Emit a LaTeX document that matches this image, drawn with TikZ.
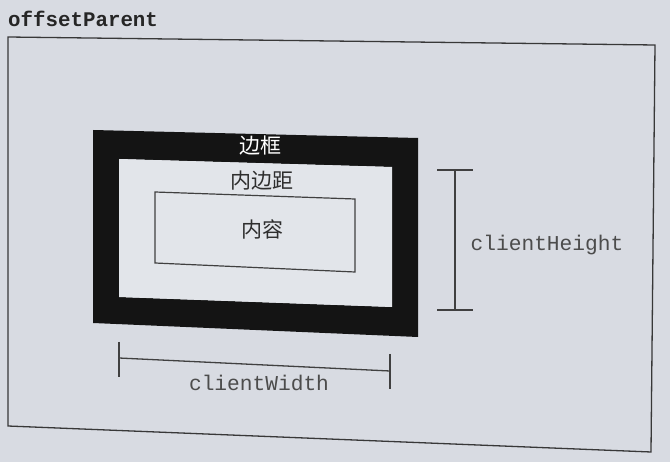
\documentclass[tikz,border=0pt]{standalone}
\usepackage{fontspec}
\setmonofont{Liberation Mono}
\newfontfamily\cjk{Noto Sans CJK SC}
\begin{document}
\begin{tikzpicture}[x=1pt,y=-1pt,
  ink/.style={draw=black!78,line width=1.3pt},
  codelabel/.style={font=\ttfamily\fontsize{21.2}{23}\selectfont,text=black!70,inner sep=0pt},
  cnlabel/.style={font=\cjk\fontsize{21}{23}\selectfont,inner sep=0pt},
  tick/.style={draw=black!75,line width=1.3pt}]
  % paper
  \fill[color={rgb,255:red,216;green,219;blue,226}] (0,0) rectangle (670,462);
  \useasboundingbox (0,0) rectangle (670,462);

  % offsetParent frame
  \coordinate (pTL) at (8,37);
  \coordinate (pTR) at (655,45);
  \coordinate (pBR) at (651,452);
  \coordinate (pBL) at (8,426);
  \draw[ink] (pTL) -- (pTR) -- (pBR) -- (pBL) -- cycle;
  \node[codelabel,font=\ttfamily\bfseries\fontsize{20.8}{23}\selectfont,text=black!85,anchor=west] (parent) at (8,19) {offsetParent};

  % border (black) with padding area inside
  \coordinate (bTL) at (93,130);
  \coordinate (bTR) at (418,138);
  \coordinate (bBR) at (418,337);
  \coordinate (bBL) at (93,323);
  \coordinate (iTL) at (119,159);
  \coordinate (iTR) at (392,167);
  \coordinate (iBR) at (392,307);
  \coordinate (iBL) at (119,297);
  \fill[black!92,even odd rule] (bTL) -- (bTR) -- (bBR) -- (bBL) -- cycle
                                (iTL) -- (iTR) -- (iBR) -- (iBL) -- cycle;
  \fill[color={rgb,255:red,226;green,229;blue,234}] (iTL) -- (iTR) -- (iBR) -- (iBL) -- cycle;
  \node[cnlabel,text=white] (border) at (260,146) {边框};
  \node[cnlabel,text=black!82] (padding) at (262,181) {内边距};

  % content box
  \coordinate (cTL) at (155,192);
  \coordinate (cTR) at (355,199);
  \coordinate (cBR) at (355,272);
  \coordinate (cBL) at (155,263);
  \draw[draw=black!75,line width=1.2pt] (cTL) -- (cTR) -- (cBR) -- (cBL) -- cycle;
  \node[cnlabel,text=black!82] (content) at (262,229) {内容};

  % clientHeight dimension
  \coordinate (hT) at (455,170);
  \coordinate (hB) at (455,310);
  \draw[tick] (hT) -- (hB);
  \draw[tick] (437,170) -- (473,170);
  \draw[tick] (437,310) -- (473,310);
  \node[codelabel] (height) at (547,245) {clientHeight};

  % clientWidth dimension
  \coordinate (wL) at (119,358);
  \coordinate (wR) at (390,371);
  \draw[tick] (wL) -- (wR);
  \draw[tick] (119,342) -- (119,377);
  \draw[tick] (390,354) -- (390,389);
  \node[codelabel] (width) at (259,383) {clientWidth};
\end{tikzpicture}
\end{document}
